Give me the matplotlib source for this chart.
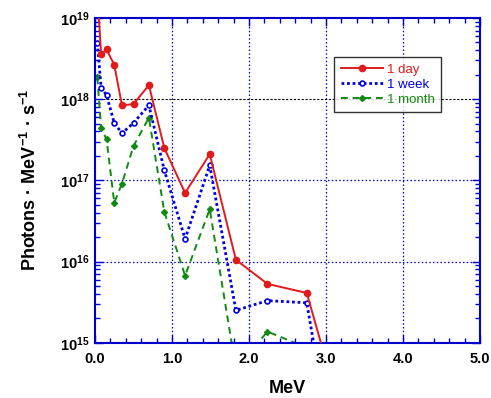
import matplotlib
matplotlib.use("Agg")
import matplotlib.pyplot as plt
from matplotlib.ticker import LogLocator, MultipleLocator, FixedLocator, NullFormatter
import numpy as np

plt.rcParams['font.family'] = ['Liberation Sans', 'DejaVu Sans']
plt.rcParams['mathtext.fontset'] = 'custom'
plt.rcParams['mathtext.rm'] = 'Liberation Sans:bold'
plt.rcParams['mathtext.bf'] = 'Liberation Sans:bold'
plt.rcParams['mathtext.it'] = 'Liberation Sans:bold'
plt.rcParams['axes.unicode_minus'] = False

# Data (MeV, photons/MeV/s)
day_x = [0.03, 0.08, 0.15, 0.25, 0.35, 0.50, 0.70, 0.90, 1.17, 1.49, 1.83, 2.24, 2.75, 3.00]
day_y = [1.9e19, 3.6e18, 4.1e18, 2.65e18, 8.4e17, 8.7e17, 1.49e18, 2.5e17, 7.0e16, 2.1e17, 1.05e16, 5.3e15, 4.1e15, 6e14]

week_x = [0.03, 0.08, 0.15, 0.25, 0.35, 0.50, 0.70, 0.90, 1.17, 1.49, 1.83, 2.24, 2.75, 3.00]
week_y = [4.9e18, 1.39e18, 1.12e18, 5.1e17, 3.8e17, 5.1e17, 8.4e17, 1.33e17, 1.9e16, 1.53e17, 2.5e15, 3.3e15, 3.1e15, 1.3e14]

month_x = [0.03, 0.08, 0.15, 0.25, 0.35, 0.50, 0.70, 0.90, 1.17, 1.49, 1.83, 2.24, 2.75, 3.00]
month_y = [1.85e18, 4.4e17, 3.2e17, 5.3e16, 9.1e16, 2.65e17, 5.9e17, 4.1e16, 6.7e15, 4.4e16, 4.8e14, 1.37e15, 8.7e14, 1e14]

labels = ['1 day', '1 week', '1 month']
colors = ['#e31a1c', '#0000e0', '#108a10']
xticks = [0.0, 1.0, 2.0, 3.0, 4.0, 5.0]
xticklabels = ['0.0', '1.0', '2.0', '3.0', '4.0', '5.0']
yticks = [1e15, 1e16, 1e17, 1e18, 1e19]
yticklabels = [r'$10^{15}$', r'$10^{16}$', r'$10^{17}$', r'$10^{18}$', r'$10^{19}$']

fig = plt.figure(figsize=(4.91, 3.98), dpi=100)
ax = fig.add_axes([95/491, 1-342.7/398, 385/491, 324.7/398])

ax.set_yscale('log')
ax.set_xlim(0, 5)
ax.set_ylim(1e15, 1e19)

# grid
for xv in [1, 2, 3, 4]:
    ax.axvline(xv, color='#0000cc', lw=0.9, ls=(0, (1.2, 1.8)), zorder=1)
for yv in [1e16, 1e17]:
    ax.axhline(yv, color='#0000cc', lw=0.9, ls=(0, (1.2, 1.8)), zorder=1)
ax.axhline(1e18, color='black', lw=0.8, ls=(0, (2, 1.5)), zorder=1)

ax.plot(day_x, day_y, color=colors[0], ls='-', lw=1.4, marker='o', ms=4.5,
        mfc=colors[0], mec=colors[0], label=labels[0], zorder=4)
ax.plot(week_x, week_y, color=colors[1], ls=(0, (1, 1)), lw=2.0, marker='o', ms=3.5,
        mfc='white', mec=colors[1], mew=1.2, label=labels[1], zorder=3)
ax.plot(month_x, month_y, color=colors[2], ls=(0, (3.5, 2.5)), lw=1.4, marker='D', ms=3,
        mfc=colors[2], mec=colors[2], label=labels[2], zorder=2)

ax.set_xticks(xticks)
ax.set_xticklabels(xticklabels, fontsize=10.5, fontweight='bold')
ax.xaxis.set_minor_locator(MultipleLocator(0.2))
ax.yaxis.set_major_locator(FixedLocator(yticks))
ax.set_yticklabels(yticklabels, fontsize=10.5)
ax.yaxis.set_minor_locator(LogLocator(base=10, subs=np.arange(2, 10)))
ax.yaxis.set_minor_formatter(NullFormatter())

ax.tick_params(which='both', direction='in', top=True, right=True, color='#0000cc')
ax.tick_params(which='major', length=6, width=1)
ax.tick_params(which='minor', length=3.5, width=1)
ax.tick_params(axis='x', pad=7)
ax.tick_params(axis='y', pad=4)
for s in ax.spines.values():
    s.set_color('#0000cc')
    s.set_linewidth(1.5)

ax.set_xlabel('MeV', fontsize=13, fontweight='bold', labelpad=10)
ax.set_ylabel('Photons · MeV$^{-1}$ · s$^{-1}$', fontsize=13, fontweight='bold', labelpad=14)

leg = ax.legend(loc='upper left', bbox_to_anchor=((334-95)/385, 1-(57-18)/324.7),
                borderaxespad=0, fontsize=9.5, frameon=True, fancybox=False, edgecolor='black',
                handlelength=3.2, borderpad=0.5, labelspacing=0.2, handletextpad=0.3)
leg.get_frame().set_linewidth(1.0)
for t, c in zip(leg.get_texts(), colors):
    t.set_color(c)

fig.savefig('out.png', dpi=100)
